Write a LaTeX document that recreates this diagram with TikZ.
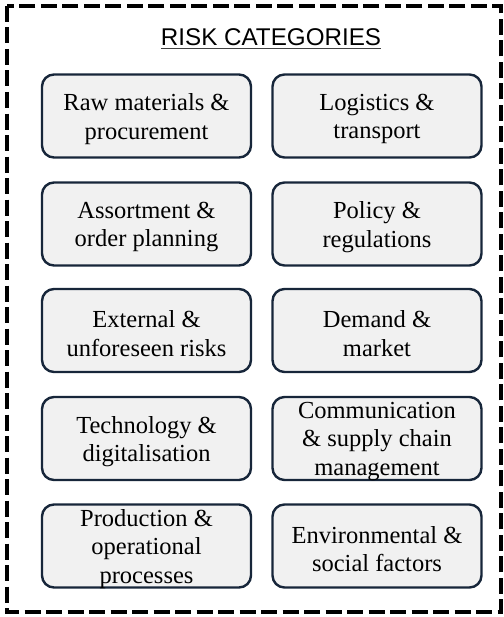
\documentclass[tikz,border=0pt]{standalone}
\usepackage{fontspec}
\setmainfont{Liberation Serif}
\newfontfamily\titlefont{Liberation Sans}
\definecolor{boxline}{HTML}{17263A}
\definecolor{boxfill}{HTML}{F1F1F1}
\begin{document}
\begin{tikzpicture}[x=1bp,y=-1bp,
  category/.style={draw=boxline, fill=boxfill, line width=2.4bp,
    rounded corners=12bp, minimum width=209bp, minimum height=83bp,
    inner sep=0pt},
  cattext/.style={align=center, inner sep=0pt,
    font=\fontsize{24.5bp}{28.3bp}\selectfont},
  frame/.style={draw=black, line width=4.5bp, dash pattern=on 16bp off 5.5bp}]
\useasboundingbox (0,0) rectangle (504,617);
% dashed outer frame
\draw[frame] (7,6) rectangle (501,612);
% heading
\node[font=\titlefont\fontsize{24.2bp}{27bp}\selectfont, inner sep=0pt, anchor=base] (title) at (271,46) {RISK CATEGORIES};
\draw[line width=1.3bp, black!75] ([yshift=-2.6bp]title.base west) -- ([yshift=-2.6bp]title.base east);
% left column boxes
\node[category] (raw)  at (146.5,116) {};
\node[category] (asso) at (146.5,224) {};
\node[category] (ext)  at (146.5,330.5) {};
\node[category] (tech) at (146.5,438.5) {};
\node[category] (prod) at (146.5,546) {};
% right column boxes
\node[category] (logi) at (377,116) {};
\node[category] (poli) at (377,224) {};
\node[category] (dema) at (377,330.5) {};
\node[category] (comm) at (377,438.5) {};
\node[category] (envi) at (377,546) {};
% box texts, set a little below each box centre
\node[cattext] (rawt)  at ([yshift=-3bp]raw.center)  {Raw materials \&\\procurement};
\node[cattext] (assot) at ([yshift=-3bp]asso.center) {Assortment \&\\order planning};
\node[cattext] (extt)  at ([yshift=-3bp]ext.center)  {External \&\\unforeseen risks};
\node[cattext] (techt) at ([yshift=-3bp]tech.center) {Technology \&\\digitalisation};
\node[cattext] (prodt) at ([yshift=-3bp]prod.center) {Production \&\\operational\\processes};
\node[cattext] (logit) at ([yshift=-3bp]logi.center) {Logistics \&\\transport};
\node[cattext] (polit) at ([yshift=-3bp]poli.center) {Policy \&\\regulations};
\node[cattext] (demat) at ([yshift=-3bp]dema.center) {Demand \&\\market};
\node[cattext] (commt) at ([yshift=-3bp]comm.center) {Communication\\\& supply chain\\management};
\node[cattext] (envit) at ([yshift=-3bp]envi.center) {Environmental \&\\social factors};
\end{tikzpicture}
\end{document}
